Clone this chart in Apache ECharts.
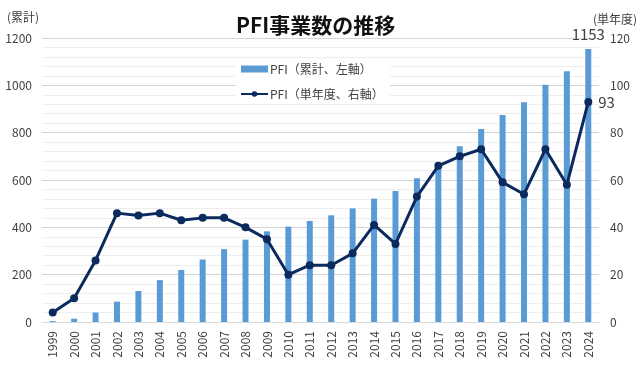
<!DOCTYPE html>
<html>
<head>
<meta charset="utf-8">
<script src="https://cdn.jsdelivr.net/npm/echarts@6/dist/echarts.min.js"></script>
<style>html,body{margin:0;padding:0;background:#fff}#c{width:642px;height:372px}</style>
</head>
<body>
<div id="c"></div>
<script>
var years = ['1999','2000','2001','2002','2003','2004','2005','2006','2007','2008','2009','2010','2011','2012','2013','2014','2015','2016','2017','2018','2019','2020','2021','2022','2023','2024'];
var cumulative = [4,14,40,86,131,177,220,264,308,348,383,403,427,451,480,521,554,607,673,743,816,875,929,1002,1060,1153];
var annual = [4,10,26,46,45,46,43,44,44,40,35,20,24,24,29,41,33,53,66,70,73,59,54,73,58,93];
var leftTicks = [0,200,400,600,800,1000,1200];
var rightTicks = [0,20,40,60,80,100,120];

var FONT = '"Noto Sans CJK JP", "Noto Sans", sans-serif';
var chart = echarts.init(document.getElementById('c'), null, {renderer:'canvas'});
var last = years.length - 1;
chart.setOption({
  animation: false,
  backgroundColor: '#fff',
  textStyle: {fontFamily: FONT},
  title: {
    text: 'PFI事業数の推移',
    left: 231, top: 10,
    textStyle: {fontSize: 21, fontWeight: 'bold', color: '#111', fontFamily: FONT}
  },
  graphic: [
    {type:'text', left: 7, top: 11, style:{text:'(累計)', fontSize:12, fill:'#404040', fontFamily: FONT}},
    {type:'text', left: 593, top: 13, style:{text:'(単年度)', fontSize:12, fill:'#404040', fontFamily: FONT}}
  ],
  legend: {
    orient: 'vertical',
    left: 236, top: 60,
    padding: [3, 6, 3, 4],
    backgroundColor: '#fff',
    itemGap: 13,
    itemWidth: 27,
    itemHeight: 7,
    textStyle: {fontSize: 12, color: '#404040', fontFamily: FONT, padding:[0,0,0,-3]},
    data: [
      {name: 'PFI（累計、左軸）', icon: 'rect'},
      {name: 'PFI（単年度、右軸）'}
    ]
  },
  grid: {left: 42, right: 43, top: 38, bottom: 50, containLabel: false},
  xAxis: {
    type: 'category',
    data: years,
    axisLine: {lineStyle: {color: '#d9d9d9'}},
    axisTick: {show: false},
    axisLabel: {rotate: 90, color: '#404040', fontSize: 12, margin: 9, fontFamily: FONT}
  },
  yAxis: [
    {
      type: 'value', min: leftTicks[0], max: leftTicks[leftTicks.length-1], interval: 200,
      axisLine: {show: false}, axisTick: {show: false},
      axisLabel: {color: '#404040', fontSize: 12, margin: 10, fontFamily: FONT, formatter: function(v){ return String(v); }},
      splitLine: {lineStyle: {color: '#d4d4d4'}},
      minorTick: {show: false, splitNumber: 5},
      minorSplitLine: {show: true, lineStyle: {color: '#eeeeee'}}
    },
    {
      type: 'value', min: rightTicks[0], max: rightTicks[rightTicks.length-1], interval: 20,
      axisLine: {show: false}, axisTick: {show: false},
      axisLabel: {color: '#404040', fontSize: 12, margin: 11, fontFamily: FONT, formatter: function(v){ return String(v); }},
      splitLine: {show: false}
    }
  ],
  series: [
    {
      name: 'PFI（累計、左軸）',
      type: 'bar',
      yAxisIndex: 0,
      barWidth: 6,
      itemStyle: {color: '#5b9bd5'},
      data: cumulative.map(function(v, i){
        return i === last ? {value: v, label: {show: true, position: 'top', distance: 7, fontSize: 15, color: '#404040', fontFamily: FONT}} : v;
      }),
      z: 2
    },
    {
      name: 'PFI（単年度、右軸）',
      type: 'line',
      yAxisIndex: 1,
      symbol: 'circle',
      symbolSize: 8,
      lineStyle: {color: '#0b2a5e', width: 3},
      itemStyle: {color: '#0b2a5e'},
      data: annual.map(function(v, i){
        return i === last ? {value: v, label: {show: true, position: 'right', distance: 6, fontSize: 15, color: '#404040', fontFamily: FONT}} : v;
      }),
      z: 3
    }
  ]
});
</script>
</body>
</html>
